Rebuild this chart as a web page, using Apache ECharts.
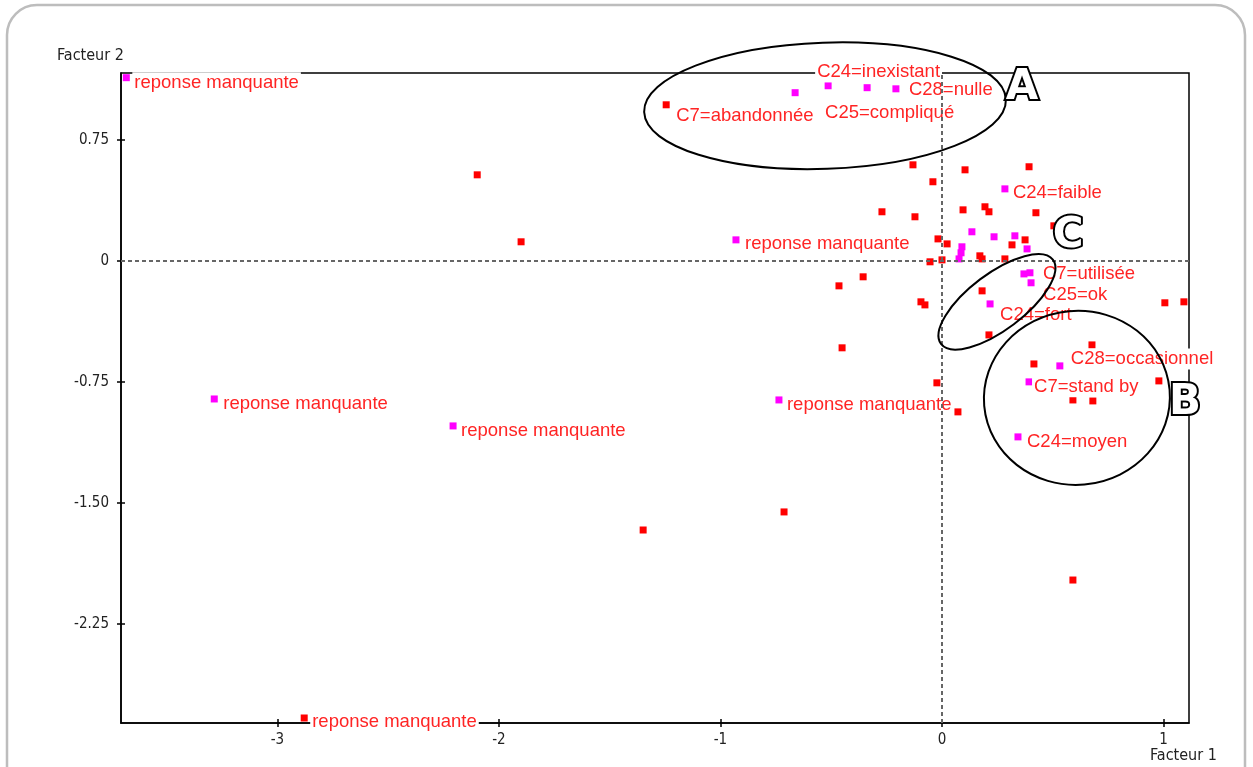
<!DOCTYPE html>
<html><head><meta charset="utf-8">
<script src="https://cdn.jsdelivr.net/npm/echarts@6/dist/echarts.min.js"></script>
<style>html,body{margin:0;padding:0;background:#fff}#c{width:1253px;height:767px}</style>
</head><body><div id="c"></div>
<script>
// ---- axis ticks ----
const xTicks = [-3, -2, -1, 0, 1];
const yTicks = [-2.25, -1.5, -0.75, 0, 0.75];
const xMin = -3.706, xMax = 1.115, yMin = -2.864, yMax = 1.164;

// ---- active modalities (red) ----
const redX = [-2.879, -1.245, -2.098, -1.900, -1.349, -0.713, 0.591, -0.054, -0.356, -0.465, -0.095, -0.077, -0.451, -0.023, 0.072,
  -0.131, 0.104, 0.393, -0.041, -0.271, -0.122, 0.095, 0.194, 0.212, 0.424, 0.505, -0.018, 0.023, 0.375, 0.316, 0.000, 0.171, 0.181,
  0.284, 0.181, 0.212, 0.677, 0.415, 0.591, 0.681, 0.979, 1.006, 1.092];
const redY = [-2.833, 0.967, 0.533, 0.118, -1.668, -1.556, -1.978, -0.006, -0.099, -0.155, -0.254, -0.273, -0.539, -0.756, -0.936,
  0.595, 0.564, 0.583, 0.490, 0.304, 0.273, 0.316, 0.335, 0.304, 0.298, 0.217, 0.136, 0.105, 0.130, 0.099, 0.006, 0.031, 0.012,
  0.012, -0.186, -0.459, -0.521, -0.639, -0.862, -0.868, -0.744, -0.260, -0.254];
const redLabel = ['reponse manquante', 'C7=abandonnée'];

// ---- supplementary modalities (magenta) ----
const magX = [-3.682, -0.930, -3.285, -2.207, -0.736, -0.514, -0.338, -0.208, 0.284, 0.397, 0.402, 0.217, 0.532, 0.393, 0.343,
  -0.663, 0.370, 0.135, 0.235, 0.329, 0.384, 0.090, 0.086, 0.077];
const magY = [1.135, 0.130, -0.856, -1.023, -0.862, 1.085, 1.073, 1.066, 0.446, -0.074, -0.136, -0.267, -0.651, -0.750, -1.091,
  1.042, -0.081, 0.180, 0.149, 0.155, 0.074, 0.087, 0.050, 0.012];
const magLabel = ['reponse manquante', 'reponse manquante', 'reponse manquante', 'reponse manquante', 'reponse manquante',
  'C24=inexistant', 'C25=compliqué', 'C28=nulle', 'C24=faible', 'C7=utilisée', 'C25=ok', 'C24=fort',
  'C28=occasionnel', 'C7=stand by', 'C24=moyen'];

// ---- group annotations ----
const groupName = ['A', 'B', 'C'];
const groupX = [0.361, 1.097, 0.569];
const groupY = [1.073, -0.880, 0.155];
const ellCx = [-0.528, 0.609, 0.248];
const ellCy = [0.961, -0.849, -0.254];
const ellRx = [0.817, 0.420, 0.316];
const ellRy = [0.391, 0.539, 0.174];

// ---- styling (label placement in px, ellipse tilt in deg) ----
const redShift = [[8, 4], [10, 11]];
const magShift = [[8, 5], [9, 4], [9, 5], [8, 5], [8, 5], [-11, -14], [-42, 25], [13, 1], [8, 4], [13, 1], [12, 12], [10, 11],
  [11, -7], [5, 5], [9, 5]];
const ellRot = [2, 5, 37];

const labelFont = "'Liberation Sans', Arial, sans-serif";
const axisFont = "'Liberation Sans Narrow', 'DejaVu Sans Condensed', 'Liberation Sans', sans-serif";

function items(xs, ys, labels, shifts) {
  return xs.map((x, i) => {
    const it = { value: [x, ys[i]] };
    if (labels[i]) {
      const s = shifts[i];
      it.label = { show: true, formatter: labels[i], position: [s[0] + 3.5 - 2, s[1] + 3.5] };
    }
    return it;
  });
}
const labelStyle = {
  show: false, align: 'left', verticalAlign: 'middle', color: '#ff2424', fontSize: 18.5,
  fontFamily: labelFont, backgroundColor: '#fff', padding: [1, 2]
};

const chart = echarts.init(document.getElementById('c'));
const axisLineStyle = { color: '#000', width: 1.5 };
chart.setOption({
  backgroundColor: '#fff',
  animation: false,
  graphic: [
    { type: 'rect', z: -10, silent: true, shape: { x: 7, y: 5, width: 1238, height: 820, r: 30 },
      style: { fill: 'none', stroke: '#bdbdbd', lineWidth: 2.5 } },
    { type: 'text', left: 57, top: 48, style: { text: 'Facteur 2', font: '16px ' + axisFont, fill: '#222' } },
    { type: 'text', left: 1150, top: 748, style: { text: 'Facteur 1', font: '16px ' + axisFont, fill: '#222' } }
  ],
  grid: { left: 121, right: 64, top: 73, bottom: 44, show: true, borderColor: '#000', borderWidth: 1.5, backgroundColor: 'transparent' },
  xAxis: [
    { type: 'value', min: xMin, max: xMax, position: 'bottom',
      axisLine: { show: true, onZero: false, lineStyle: axisLineStyle },
      axisTick: { show: true, customValues: xTicks, length: 4, lineStyle: axisLineStyle },
      axisLabel: { customValues: xTicks, margin: 10, color: '#222', fontSize: 15, fontFamily: axisFont, formatter: v => String(v) },
      splitLine: { show: false } },
    { type: 'value', min: xMin, max: xMax, position: 'bottom',
      axisLine: { show: false, onZero: false },
      axisTick: { show: true, inside: true, customValues: xTicks, length: 4, lineStyle: axisLineStyle },
      axisLabel: { show: false }, splitLine: { show: false } }
  ],
  yAxis: [
    { type: 'value', min: yMin, max: yMax, position: 'left',
      axisLine: { show: true, onZero: false, lineStyle: axisLineStyle },
      axisTick: { show: true, customValues: yTicks, length: 4, lineStyle: axisLineStyle },
      axisLabel: { customValues: yTicks, margin: 12, color: '#222', fontSize: 15, fontFamily: axisFont,
        formatter: v => (v === 0 ? '0' : v.toFixed(2)) },
      splitLine: { show: false } },
    { type: 'value', min: yMin, max: yMax, position: 'left',
      axisLine: { show: false, onZero: false },
      axisTick: { show: true, inside: true, customValues: yTicks, length: 4, lineStyle: axisLineStyle },
      axisLabel: { show: false }, splitLine: { show: false } }
  ],
  series: [
    { type: 'line', data: [], z: 1, silent: true,
      markLine: { silent: true, symbol: 'none', animation: false, label: { show: false },
        lineStyle: { color: '#666', type: [4, 3], width: 2 },
        data: [{ xAxis: 0 }, { yAxis: 0 }] } },
    { type: 'scatter', name: 'actives', z: 2, symbol: 'rect', symbolSize: 7,
      itemStyle: { color: '#ff0000', opacity: 1 }, label: labelStyle,
      data: items(redX, redY, redLabel, redShift) },
    { type: 'scatter', name: 'supplémentaires', z: 3, symbol: 'rect', symbolSize: 7,
      itemStyle: { color: '#ff00ff', opacity: 1 }, label: labelStyle,
      data: items(magX, magY, magLabel, magShift) },
    { type: 'custom', z: 5, silent: true, clip: false,
      data: ellCx.map((c, i) => [c, ellCy[i], ellRx[i], ellRy[i], ellRot[i]]),
      renderItem: function (params, api) {
        const c = api.coord([api.value(0), api.value(1)]);
        const s = api.size([api.value(2), api.value(3)]);
        return { type: 'ellipse', x: c[0], y: c[1], rotation: api.value(4) * Math.PI / 180,
          shape: { cx: 0, cy: 0, rx: s[0], ry: s[1] },
          style: { fill: 'none', stroke: '#000', lineWidth: 2 } };
      } },
    { type: 'custom', z: 6, silent: true, clip: false,
      data: groupX.map((x, i) => [x, groupY[i]]),
      renderItem: function (params, api) {
        const c = api.coord([api.value(0), api.value(1)]);
        return { type: 'text', x: c[0], y: c[1],
          style: { text: groupName[params.dataIndex], align: 'center', verticalAlign: 'middle',
            font: "bold 42px 'DejaVu Sans', 'Liberation Sans', sans-serif",
            fill: '#fff', stroke: '#000', lineWidth: 4 } };
      } }
  ]
});
</script></body></html>
